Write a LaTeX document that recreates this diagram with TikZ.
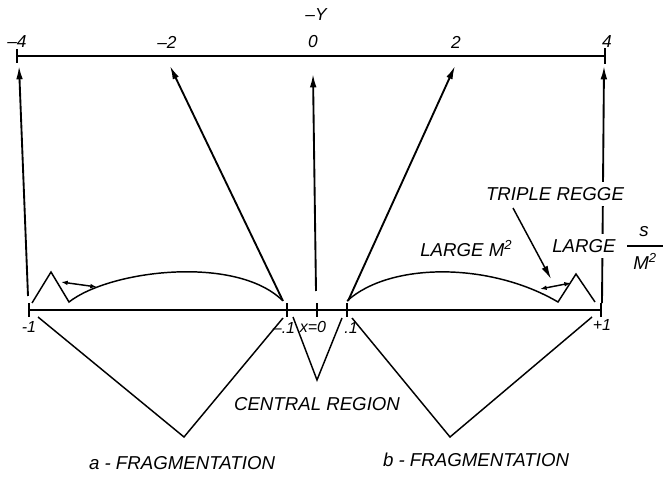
\documentclass[tikz,border=0pt]{standalone}
\usepackage{fontspec}
\setmainfont{Liberation Sans}
\usetikzlibrary{arrows.meta}
\begin{document}
\begin{tikzpicture}[x=0.75pt,y=-0.75pt,
  line width=1.1pt, line join=miter,
  big/.style={font=\fontsize{14}{16}\selectfont\itshape, inner sep=0pt},
  num/.style={font=\fontsize{13}{15}\selectfont\itshape, inner sep=0pt},
  sml/.style={font=\fontsize{12}{14}\selectfont\itshape, inner sep=0pt},
  mask/.style={big, fill=white, inner sep=4pt},
  ray/.style={line width=1.4pt, -{Latex[length=10pt,width=5pt]}},
  dbl/.style={line width=1.1pt, {Latex[length=5pt,width=3.5pt]}-{Latex[length=5pt,width=3.5pt]}},
  tick/.style={line width=1.1pt}
]
\useasboundingbox (0,0) rectangle (664,477);

% axes
\coordinate (tL) at (17,56);
\coordinate (tR) at (605,56);
\coordinate (bL) at (29,310);
\coordinate (bR) at (601,310);
\coordinate (bm) at (287,310);
\coordinate (b0) at (317,310);
\coordinate (bp) at (347,310);

\draw (tL) -- (tR);
\draw[tick] ([yshift=-5]tL) -- ([yshift=5]tL);
\draw[tick] ([yshift=-6]tR) -- ([yshift=6]tR);

\draw (bL) -- (bR);
\foreach \c in {bL,bm,b0,bp,bR}
  \draw[tick] ([yshift=-5]\c) -- ([yshift=5]\c);

% top labels
\node[num] (lm4) at (17,42) {–4};
\node[num] (lm2) at (167,42) {–2};
\node[num] (l0) at (313,42) {0};
\node[num] (l2) at (456,42) {2};
\node[num] (l4) at (607,42) {4};
\node[num] (lY) at (316,15) {–Y};

% rays
\coordinate (h4m) at (19,66);  \coordinate (t4m) at (28,296);
\coordinate (h2m) at (170,66); \coordinate (t2m) at (283,301);
\coordinate (h0)  at (313,74); \coordinate (t0)  at (316,291);
\coordinate (h2)  at (455,66); \coordinate (t2)  at (348,301);
\coordinate (h4)  at (604,66); \coordinate (t4)  at (602,303);

\draw[ray] (t4m) -- (h4m);
\draw[ray] (t2m) -- (h2m);
\draw[ray] (t0) -- (h0);
\draw[ray] (t2) -- (h2);
\draw[ray] (t4) -- (h4);

% left triangle and arc
\coordinate (a1) at (32,303);
\coordinate (a2) at (51,272);
\coordinate (a3) at (69,302);
\coordinate (a4) at (282,300);
\draw (a1) -- (a2) -- (a3) .. controls (110,270) and (235,255) .. (a4);

% right arc and triangle
\coordinate (c1) at (347,301);
\coordinate (c2) at (558,302);
\coordinate (c3) at (576,274);
\coordinate (c4) at (595,302);
\draw (c1) .. controls (390,262) and (490,262) .. (c2) -- (c3) -- (c4);

% double arrows
\coordinate (d1) at (61,282); \coordinate (d2) at (97,287);
\draw[dbl] (d1) -- (d2);
\coordinate (e1) at (540,289); \coordinate (e2) at (571,283);
\draw[dbl] (e1) -- (e2);

% V shapes
\coordinate (va1) at (38,317);  \coordinate (va2) at (184,437); \coordinate (va3) at (283,318);
\coordinate (vc1) at (293,317); \coordinate (vc2) at (317,380); \coordinate (vc3) at (342,318);
\coordinate (vb1) at (352,318); \coordinate (vb2) at (450,437); \coordinate (vb3) at (592,317);
\draw (va1) -- (va2) -- (va3);
\draw (vc1) -- (vc2) -- (vc3);
\draw (vb1) -- (vb2) -- (vb3);

% bottom axis labels
\node[sml] (lbm1) at (29,327) {-1};
\node[sml] (lbmp) at (284,328) {–.1};
\node[sml] (lbx) at (313,327) {x=0};
\node[sml] (lbp) at (351,328) {.1};
\node[sml] (lbp1) at (602,325) {+1};

% region labels
\node[big] (central) at (317,404) {CENTRAL REGION};
\node[big] (afrag) at (182,463) {a - FRAGMENTATION};
\node[big] (bfrag) at (476,460) {b - FRAGMENTATION};

% right labels
\node[mask] (triple) at (555,194) {TRIPLE REGGE};
\node[mask] (largeR) at (584,246) {LARGE};
\node[big, anchor=east] (largeM) at (513,249) {LARGE M\textsuperscript{2}};
\coordinate (tr1) at (513,208); \coordinate (tr2) at (551,279);
\draw[ray, line width=1.1pt] (tr1) -- (tr2);

% fraction s/M^2
\node[big] (fs) at (644,232) {s};
\coordinate (fb1) at (627,246); \coordinate (fb2) at (663,246);
\draw (fb1) -- (fb2);
\node[big] (fm) at (645,261) {M\textsuperscript{2}};
\end{tikzpicture}
\end{document}
